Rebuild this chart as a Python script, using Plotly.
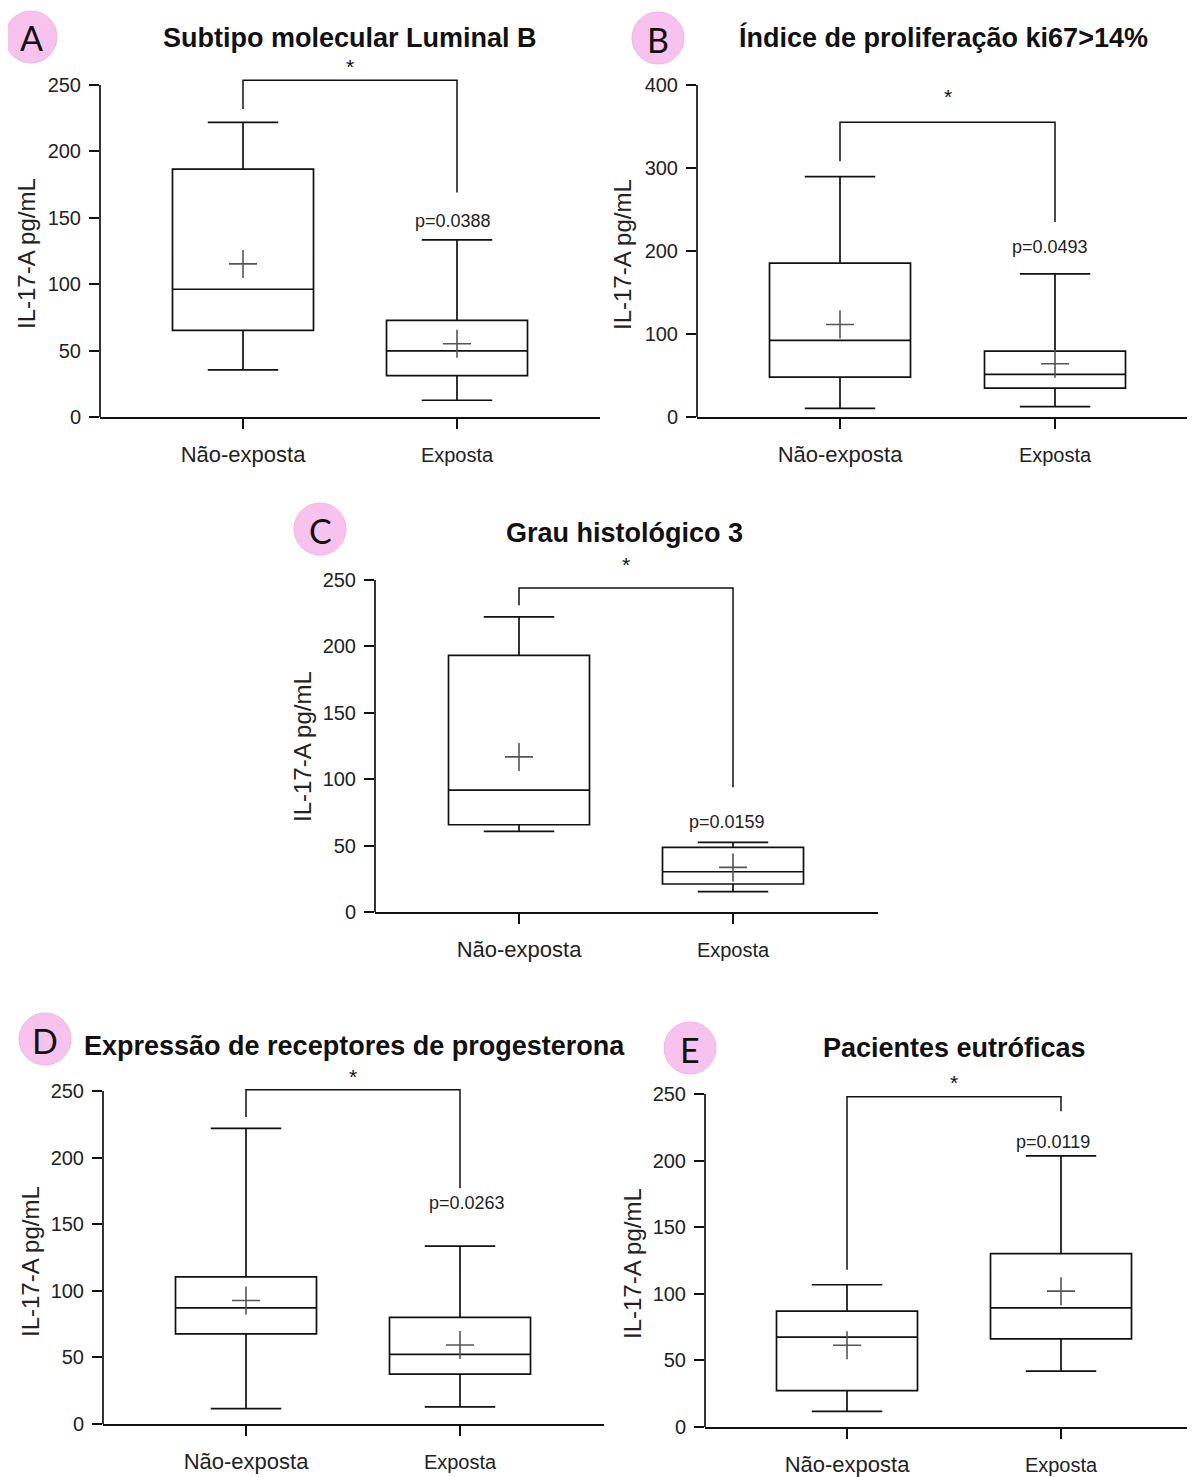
import plotly.graph_objects as go

# ---------------- data ----------------
categories = ["Não-exposta", "Exposta"]
panel_letters = ["A", "B", "C", "D", "E"]
panel_titles = [
    "Subtipo molecular Luminal B",
    "Índice de proliferação ki67>14%",
    "Grau histológico 3",
    "Expressão de receptores de progesterona",
    "Pacientes eutróficas",
]
p_values = ["p=0.0388", "p=0.0493", "p=0.0159", "p=0.0263", "p=0.0119"]
y_title = "IL-17-A pg/mL"

# box statistics per panel: [Não-exposta, Exposta]
A_min = [35.5, 12.6]
A_q1 = [65.3, 31.1]
A_med = [96.2, 49.8]
A_q3 = [186.6, 72.8]
A_max = [221.8, 133.3]
A_mean = [115.3, 55.2]

B_min = [10.4, 12.4]
B_q1 = [48.1, 34.9]
B_med = [92.3, 51.4]
B_q3 = [185.4, 79.4]
B_max = [289.7, 172.5]
B_mean = [111.5, 64.2]

C_min = [60.7, 15.3]
C_q1 = [65.7, 21.1]
C_med = [91.8, 30.3]
C_q3 = [193.3, 48.6]
C_max = [222.2, 52.4]
C_mean = [116.8, 33.6]

D_min = [11.5, 12.8]
D_q1 = [67.7, 37.4]
D_med = [87.2, 52.3]
D_q3 = [110.5, 80.0]
D_max = [222.0, 133.5]
D_mean = [92.7, 59.3]

E_min = [11.8, 41.9]
E_q1 = [27.3, 66.2]
E_med = [67.5, 89.5]
E_q3 = [87.0, 130.1]
E_max = [106.8, 203.6]
E_mean = [61.4, 102.0]

stats = [
    (A_min, A_q1, A_med, A_q3, A_max, A_mean),
    (B_min, B_q1, B_med, B_q3, B_max, B_mean),
    (C_min, C_q1, C_med, C_q3, C_max, C_mean),
    (D_min, D_q1, D_med, D_q3, D_max, D_mean),
    (E_min, E_q1, E_med, E_q3, E_max, E_mean),
]

# ---------------- layout geometry (page pixels) ----------------
PAGE_W, PAGE_H = 1195, 1477
OFF = 8  # default page body margin
W, H = PAGE_W - OFF, PAGE_H - OFF


def px(x):
    return (x - OFF) / W


def py(y):
    return 1 - (y - OFF) / H


geom = [
    dict(xL=100, xR=600, t0=243, t1=457, p0=417, pT=85, vT=250, rT=272, dt=50),
    dict(xL=697, xR=1195, t0=840, t1=1055, p0=417, pT=85, vT=400, rT=400, dt=100),
    dict(xL=375, xR=878, t0=519, t1=733, p0=912, pT=580, vT=250, rT=272, dt=50),
    dict(xL=103, xR=604, t0=246, t1=460, p0=1424, pT=1091, vT=250, rT=272, dt=50),
    dict(xL=705, xR=1195, t0=847, t1=1061, p0=1427, pT=1094, vT=250, rT=272, dt=50),
]
brackets = [
    dict(top=253.5, left=232, right=169, star=264, py=147.5, pxs=-4),
    dict(top=355, left=308, right=235, star=386, py=205, pxs=-5),
    dict(top=244, left=231, right=94, star=262, py=67.5, pxs=-6),
    dict(top=251, left=230.5, right=177, star=261, py=166, pxs=7),
    dict(top=248, left=118, right=237, star=259, py=213.6, pxs=-8),
]
badges = [(31, 37), (658, 38), (320, 529), (45, 1039), (690, 1048)]
titles_pos = [(350, 38), (943, 38), (625, 533), (354, 1046), (954, 1048)]
ytitle_pos = [(26, 254), (622, 254), (302, 747), (30, 1262), (632, 1264)]

LINE = "#111111"
LW = 1.7
TICKFONT = "Liberation Sans Narrow, Arial Narrow, Liberation Sans, Arial"
FONT = "Liberation Sans, Arial"

fig = go.Figure()
shapes = []
annotations = []

for i, g in enumerate(geom):
    n = i + 1
    xa = "x" if n == 1 else f"x{n}"
    ya = "y" if n == 1 else f"y{n}"
    d = g["t1"] - g["t0"]
    xr = [(g["xL"] - g["t0"]) / d, (g["xR"] - g["t0"]) / d]
    pR = g["p0"] - (g["p0"] - g["pT"]) * g["rT"] / g["vT"]
    xdom = [px(g["xL"]), min(1.0, px(g["xR"]))]
    ydom = [py(g["p0"]), py(pR)]
    mn, q1, med, q3, mx, mean = stats[i]

    fig.add_trace(go.Box(
        x=[0, 1], q1=q1, median=med, q3=q3, lowerfence=mn, upperfence=mx,
        width=141 / d, whiskerwidth=0.5, boxpoints=False,
        line=dict(color=LINE, width=LW), fillcolor="rgba(0,0,0,0)",
        xaxis=xa, yaxis=ya, showlegend=False, hoverinfo="skip",
    ))
    fig.add_trace(go.Scatter(
        x=[0, 1], y=mean, mode="markers",
        marker=dict(symbol="cross-thin", size=20, color="#555555",
                    line=dict(color="#555555", width=1.6)),
        xaxis=xa, yaxis=ya, showlegend=False, hoverinfo="skip",
    ))
    b = brackets[i]
    fig.add_trace(go.Scatter(
        x=[0, 0, 1, 1], y=[b["left"], b["top"], b["top"], b["right"]],
        mode="lines", line=dict(color=LINE, width=1.5),
        xaxis=xa, yaxis=ya, showlegend=False, hoverinfo="skip",
    ))

    fig.update_layout({
        ("xaxis" if n == 1 else f"xaxis{n}"): dict(
            domain=xdom, range=xr, anchor=ya, automargin=False,
            tickvals=[0, 1],
            ticktext=['<span style="font-size:22px">' + categories[0] + '</span>',
                      '<span style="font-size:20px">' + categories[1] + '</span>'],
            showline=True, linecolor=LINE, linewidth=LW,
            ticks="outside", ticklen=10, tickwidth=LW, tickcolor=LINE,
            showgrid=False, zeroline=False, fixedrange=True,
            tickfont=dict(family=FONT, size=20, color="#222"),
            ticklabelstandoff=9,
        ),
        ("yaxis" if n == 1 else f"yaxis{n}"): dict(
            domain=ydom, range=[0, g["rT"]], anchor=xa, automargin=False,
            tickvals=list(range(0, g["vT"] + 1, g["dt"])),
            showline=False,
            ticks="outside", ticklen=10, tickwidth=LW, tickcolor=LINE,
            showgrid=False, zeroline=False, fixedrange=True,
            tickfont=dict(family=TICKFONT, size=20, color="#222"),
            ticklabelstandoff=4,
        ),
    })
    shapes.append(dict(type="line", xref=f"{xa} domain", yref=ya,
                       x0=0, x1=0, y0=0, y1=g["vT"],
                       line=dict(color=LINE, width=LW)))
    annotations.append(dict(x=0.5, y=b["star"], xref=xa, yref=ya, text="*",
                            xanchor="center", yanchor="middle",
                            showarrow=False, font=dict(family=FONT, size=21, color="#111")))
    annotations.append(dict(x=1, y=b["py"], xref=xa, yref=ya, text=p_values[i],
                            xanchor="center", yanchor="middle",
                            xshift=b["pxs"], showarrow=False,
                            font=dict(family=FONT, size=18, color="#222")))
    cx, cy = badges[i]
    r = 26
    shapes.append(dict(type="circle", xref="paper", yref="paper",
                       x0=px(cx - r), x1=px(cx + r),
                       y0=py(cy + r), y1=py(cy - r),
                       fillcolor="#F8C2EF", line=dict(color="#EDB6E4", width=1)))
    annotations.append(dict(x=px(cx), y=py(cy + 1), xref="paper", yref="paper",
                            xanchor="center", yanchor="middle",
                            text=panel_letters[i], showarrow=False,
                            font=dict(family="Lato, Open Sans, sans-serif", size=34, color="#111")))
    tx, ty = titles_pos[i]
    annotations.append(dict(x=px(tx), y=py(ty), xref="paper", yref="paper",
                            xanchor="center", yanchor="middle",
                            text="<b>" + panel_titles[i] + "</b>", showarrow=False,
                            font=dict(family=FONT, size=27, color="#111")))
    yx, yy = ytitle_pos[i]
    annotations.append(dict(x=px(yx), y=py(yy), xref="paper", yref="paper",
                            xanchor="center", yanchor="middle",
                            text=y_title, textangle=-90, showarrow=False,
                            font=dict(family=FONT, size=24, color="#222")))

fig.update_layout(
    template="none",
    width=W, height=H, autosize=False,
    margin=dict(l=0, r=0, t=0, b=0, pad=0),
    paper_bgcolor="white", plot_bgcolor="white",
    shapes=shapes, annotations=annotations,
    font=dict(family=FONT, color="#222"),
    showlegend=False,
)

fig.write_html("out.html")
